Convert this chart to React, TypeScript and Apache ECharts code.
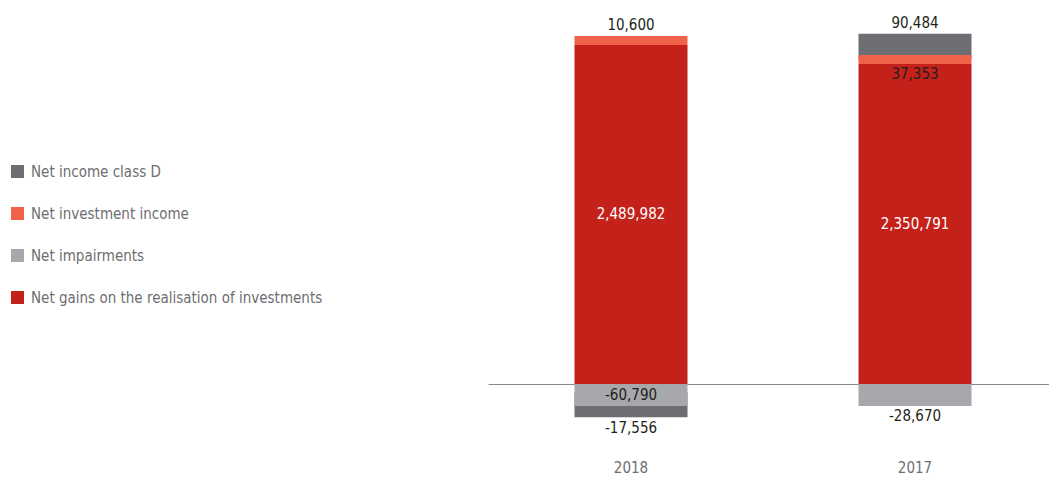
import React, { useEffect, useRef } from "react";
import * as echarts from "echarts";

const categories = ["2018", "2017"];
const netGains = [2489982, 2350791];
const netInvestmentIncome = [10600, 37353];
const netImpairments = [-60790, -28670];
const netIncomeClassD = [-17556, 90484];

const legendOrder = [
  "Net income class D",
  "Net investment income",
  "Net impairments",
  "Net gains on the realisation of investments",
];

const FONT = '"Liberation Sans Narrow", "DejaVu Sans Condensed", "Roboto Condensed", sans-serif';
const fmt = (v: number) => v.toLocaleString("en-US");

export default function App() {
  const ref = useRef<HTMLDivElement>(null);
  useEffect(() => {
    if (!ref.current) return;
    const chart = echarts.init(ref.current, null, { renderer: "svg" });
    const valLabel = (positions: string[], colors?: string[]) => (v: number, i: number) => ({
      value: v,
      label: {
        show: true,
        position: positions[i],
        distance: 3,
        color: colors ? colors[i] : "#231f20",
        fontSize: 15,
        fontFamily: FONT,
        formatter: (p: any) => fmt(p.value),
      },
    });
    chart.setOption({
      animation: false,
      textStyle: { fontFamily: FONT },
      legend: {
        orient: "vertical",
        left: 11,
        top: 164,
        padding: 0,
        itemWidth: 13,
        itemHeight: 13,
        itemGap: 27,
        icon: "rect",
        data: legendOrder,
        textStyle: { color: "#6d6e71", fontSize: 15, fontFamily: FONT, padding: [0, 0, 0, 2] },
      },
      grid: { left: 489, width: 568, top: 30, height: 408.4, outerBoundsMode: "none" },
      xAxis: {
        type: "category",
        data: categories,
        axisLine: { onZero: true, lineStyle: { color: "#8a8a8a", width: 1.2 } },
        axisTick: { show: false },
        axisLabel: { margin: 22, color: "#6d6e71", fontSize: 15, fontFamily: FONT },
      },
      yAxis: {
        type: "value",
        min: -400000,
        max: 2600000,
        show: false,
        splitLine: { show: false },
      },
      series: [
        {
          name: "Net gains on the realisation of investments",
          type: "bar",
          stack: "total",
          barWidth: 113,
          itemStyle: { color: "#c4211a" },
          data: netGains.map(valLabel(["inside", "inside"], ["#ffffff", "#ffffff"])),
        },
        {
          name: "Net impairments",
          type: "bar",
          stack: "total",
          barWidth: 113,
          barMinHeight: 22,
          z: 4,
          itemStyle: { color: "#a7a8ab" },
          data: netImpairments.map(valLabel(["inside", "bottom"])),
        },
        {
          name: "Net investment income",
          type: "bar",
          stack: "total",
          barWidth: 113,
          barMinHeight: 9,
          z: 4,
          itemStyle: { color: "#f0624a" },
          data: netInvestmentIncome.map(valLabel(["top", "bottom"])),
        },
        {
          name: "Net income class D",
          type: "bar",
          stack: "total",
          barWidth: 113,
          barMinHeight: 25,
          z: 3,
          itemStyle: { color: "#6d6e72" },
          data: netIncomeClassD.map(valLabel(["bottom", "top"])),
        },
      ],
    });
    return () => chart.dispose();
  }, []);
  return (
    <div
      ref={ref}
      style={{ position: "absolute", left: 0, top: 0, width: 1049, height: 478 }}
    />
  );
}
